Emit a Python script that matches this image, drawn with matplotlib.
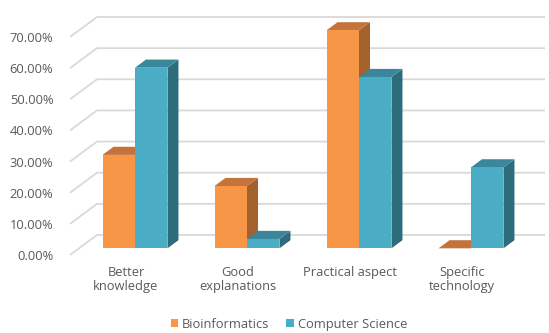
import matplotlib
matplotlib.use("Agg")
import matplotlib.pyplot as plt
from matplotlib.patches import Polygon, Patch

categories = ["Better\nknowledge", "Good\nexplanations", "Practical aspect", "Specific\ntechnology"]
series_names = ["Bioinformatics", "Computer Science"]
bioinformatics = [30, 20, 70, 0]
computer_science = [58, 3, 55, 26]
yticks = [0, 10, 20, 30, 40, 50, 60, 70]
ytick_labels = [f"{v:.2f}%" for v in yticks]

front_colors = ["#F79646", "#4BACC6"]
top_colors = ["#C4733A", "#3A879B"]
side_colors = ["#A3612D", "#2E6B7B"]
grid_color = "#D9D9D9"
text_color = "#595959"
font = "Open Sans"
fs = 9.3

W, H = 549, 333
fig = plt.figure(figsize=(W / 100, H / 100), dpi=100)
# front plane of the 3D box in pixels
left_px, right_px, bottom_px, top_px = 70, 518, 255, 37
ax = fig.add_axes([left_px / W, (H - bottom_px) / H,
                   (right_px - left_px) / W, (bottom_px - top_px) / H])
ax.set_xlim(0, len(categories))
ax.set_ylim(0, 70)
for s in ax.spines.values():
    s.set_visible(False)

# depth of the box (data units)
px_per_x = (right_px - left_px) / len(categories)
px_per_y = (bottom_px - top_px) / 70
ddx = 27 / px_per_x
ddy = 20 / px_per_y

# back wall gridlines
for v in yticks:
    ax.plot([0, ddx, len(categories) + ddx], [v, v + ddy, v + ddy],
            color=grid_color, lw=1.3, zorder=1, clip_on=False, solid_capstyle="butt")

f0, f1 = 1 / 3, 0.74
bw = 0.29
series = [bioinformatics, computer_science]
for i in range(len(categories)):
    for k, vals in enumerate(series):
        v = vals[i]
        x0 = i + 0.5 - bw + k * bw + f0 * ddx
        x1 = x0 + bw
        y0 = f0 * ddy
        dx = (f1 - f0) * ddx
        dy = (f1 - f0) * ddy
        z = 3 + i * 3 + k
        side = Polygon([(x1, y0), (x1 + dx, y0 + dy), (x1 + dx, y0 + dy + v), (x1, y0 + v)],
                       closed=True, facecolor=side_colors[k], edgecolor="none", zorder=z, clip_on=False)
        top = Polygon([(x0, y0 + v), (x1, y0 + v), (x1 + dx, y0 + dy + v), (x0 + dx, y0 + dy + v)],
                      closed=True, facecolor=top_colors[k], edgecolor="none", zorder=z, clip_on=False)
        ax.add_patch(side)
        ax.add_patch(top)
        if v > 0:
            front = Polygon([(x0, y0), (x1, y0), (x1, y0 + v), (x0, y0 + v)],
                            closed=True, facecolor=front_colors[k], edgecolor="none", zorder=z + 0.5, clip_on=False)
            ax.add_patch(front)

ax.set_yticks(yticks)
ax.set_yticklabels(ytick_labels, fontsize=fs, color=text_color, fontfamily=font)
ax.set_xticks([i + 0.5 for i in range(len(categories))])
ax.set_xticklabels(categories, fontsize=fs, color=text_color, fontfamily=font, linespacing=1.1)
ax.tick_params(axis="y", length=0, pad=12)
ax.tick_params(axis="x", length=0, pad=8)
ax.patch.set_alpha(0)

handles = [Patch(facecolor=c, edgecolor="none") for c in front_colors]
fig.legend(handles, series_names, loc="lower center", bbox_to_anchor=(289 / W, -0.028),
           ncol=2, frameon=False, handlelength=0.55, handleheight=0.55, handletextpad=0.35,
           columnspacing=1.3, prop={"family": font, "size": fs}, labelcolor=text_color)

fig.savefig("out.png", dpi=100)
